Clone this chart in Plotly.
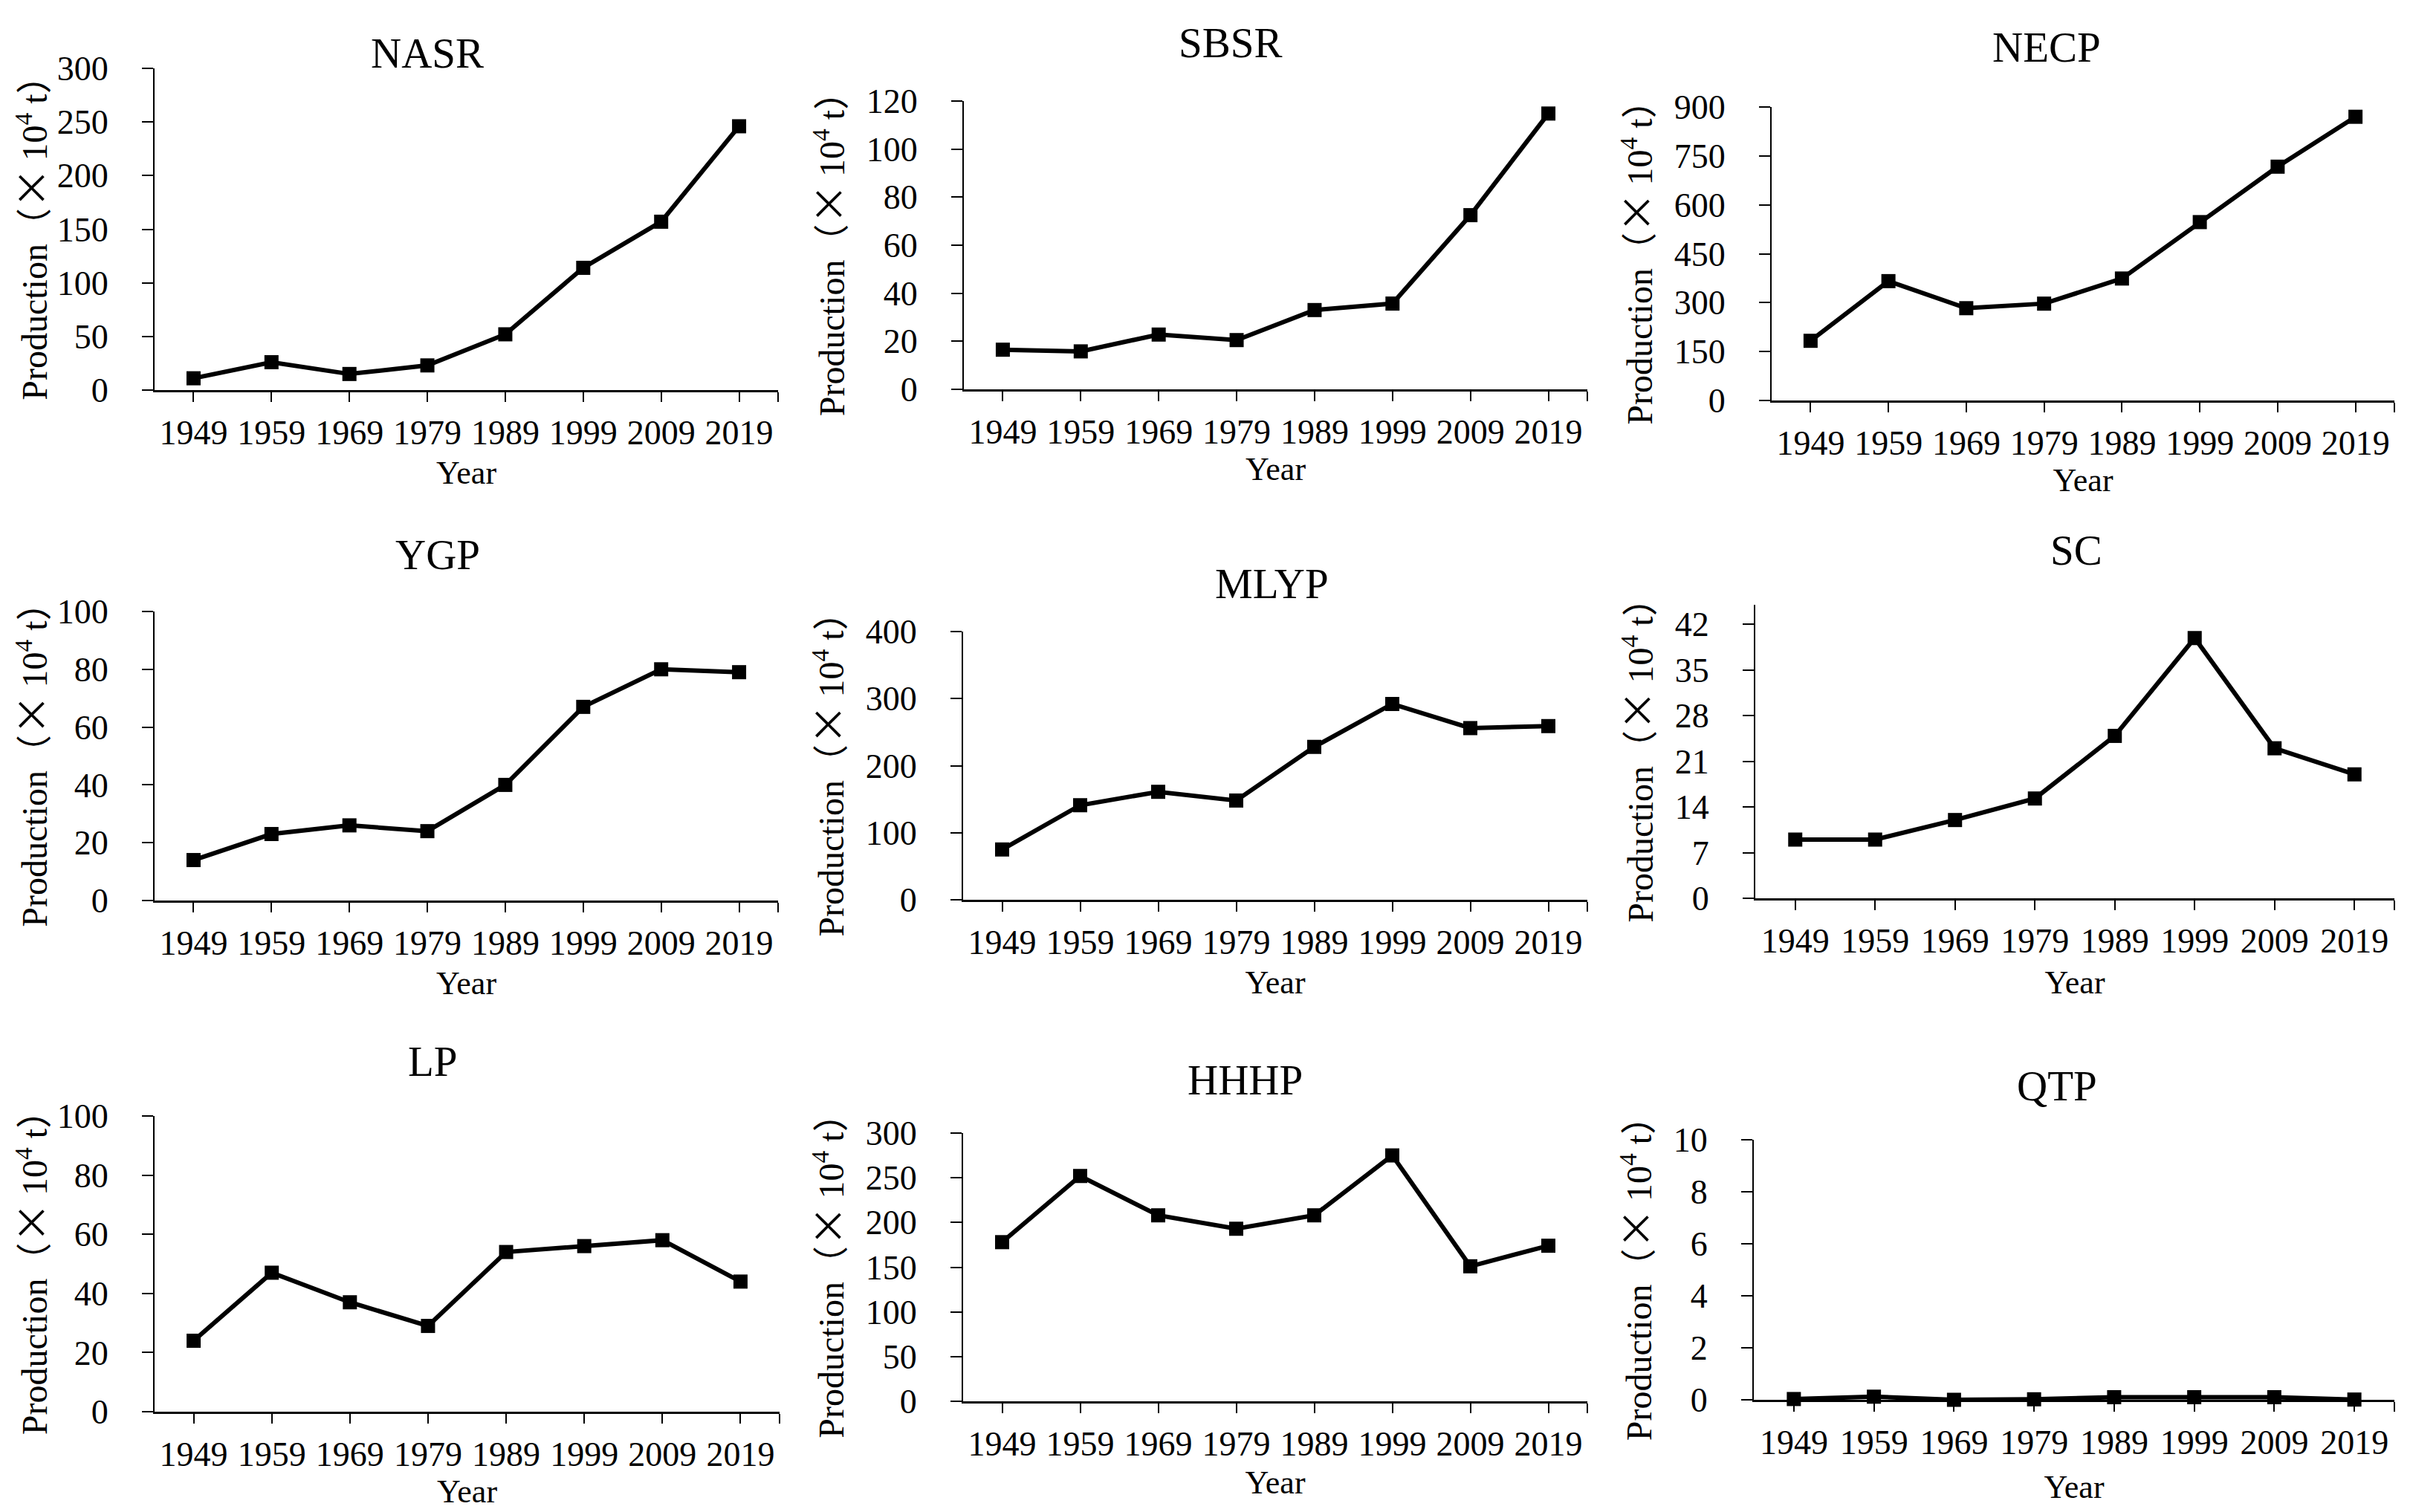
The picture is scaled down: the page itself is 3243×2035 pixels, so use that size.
import plotly.graph_objects as go

W, H = 3243, 2035

years = [1949, 1959, 1969, 1979, 1989, 1999, 2009, 2019]
year_labels = ["1949", "1959", "1969", "1979", "1989", "1999", "2009", "2019"]

regions = ["NASR", "SBSR", "NECP", "YGP", "MLYP", "SC", "LP", "HHHP", "QTP"]

nasr = [11, 26, 15, 23, 52, 114, 157, 246]
sbsr = [16.5, 15.8, 22.8, 20.5, 33, 35.7, 72.5, 114.8]
necp = [183, 366, 283, 297, 374, 547, 717, 870]
ygp = [14, 23, 26, 24, 40, 67, 80, 79]
mlyp = [75, 141, 161, 148, 228, 292, 256, 259]
sc = [9, 9, 12, 15.3, 24.9, 39.9, 23, 19]
lp = [24, 47, 37, 29, 54, 56, 58, 44]
hhhp = [178, 252, 208, 193, 208, 275, 151, 174]
qtp = [0.03, 0.12, 0.0, 0.02, 0.1, 0.1, 0.1, 0.01]

series = [nasr, sbsr, necp, ygp, mlyp, sc, lp, hhhp, qtp]
y_max = [300, 120, 900, 100, 400, 45, 100, 300, 10]
y_step = [50, 20, 150, 20, 100, 7, 20, 50, 2]

# plot boxes in pixels: left, right, top (range max), bottom (zero)
boxes = [
    (208, 1047, 92, 525),
    (1297, 2136, 136, 524),
    (2384, 3222, 144, 539),
    (208, 1047, 823, 1212),
    (1296, 2136, 850, 1211),
    (2362, 3222, 814, 1209),
    (208, 1049, 1502, 1900),
    (1296, 2136, 1525, 1886),
    (2360, 3222, 1534, 1884),
]
title_pos = [
    (575, 72), (1655, 58), (2754, 64),
    (589, 746), (1711, 786), (2794, 740),
    (582, 1428), (1676, 1453), (2768, 1461),
]
year_standoff = [14, 8, 0, 14, 14, 16, 8, 12, 20]

FONT = "Liberation Serif, 'Times New Roman', 'Noto Sans CJK SC', serif"
CJK = "Noto Sans CJK SC"
ytitle = ("Production<span style=\"font-family:'" + CJK + "'\">（</span>"
          "<span style=\"font-family:'" + CJK + "';font-size:54px\">×</span>"
          "&#8201;10<sup>4</sup> t<span style=\"font-family:'" + CJK + "'\">）</span>")

fig = go.Figure()
layout = dict(
    width=W, height=H,
    margin=dict(l=0, r=0, t=0, b=0, autoexpand=False),
    paper_bgcolor="white", plot_bgcolor="white",
    showlegend=False,
    font=dict(family=FONT, size=46, color="black"),
    annotations=[],
)

x_lo = years[0] - (years[1] - years[0]) / 2
x_hi = years[-1] + (years[1] - years[0]) / 2

for i, (name, vals) in enumerate(zip(regions, series)):
    n = i + 1
    xa = "x" if n == 1 else f"x{n}"
    ya = "y" if n == 1 else f"y{n}"
    fig.add_trace(go.Scatter(
        x=years, y=vals, xaxis=xa, yaxis=ya, mode="lines+markers",
        line=dict(color="black", width=6),
        marker=dict(symbol="square", size=19, color="black"),
        name=name, cliponaxis=False,
    ))
    l, r, t, b = boxes[i]
    layout[f"xaxis{n}" if n > 1 else "xaxis"] = dict(
        domain=[l / W, r / W], anchor=ya, automargin=False,
        range=[x_lo, x_hi],
        tickmode="array", tickvals=years + [x_hi], ticktext=year_labels + [""],
        showline=True, linecolor="black", linewidth=2.5,
        ticks="outside", ticklen=13, tickwidth=2, tickcolor="black",
        showgrid=False, zeroline=False,
        tickfont=dict(size=46), ticklabelstandoff=2,
        title=dict(text="Year", font=dict(size=44), standoff=year_standoff[i]),
        fixedrange=True,
    )
    layout[f"yaxis{n}" if n > 1 else "yaxis"] = dict(
        domain=[1 - b / H, 1 - t / H], anchor=xa, automargin=False,
        range=[0, y_max[i]], tick0=0, dtick=y_step[i],
        showline=True, linecolor="black", linewidth=2,
        ticks="outside", ticklen=15, tickwidth=2, tickcolor="black",
        showgrid=False, zeroline=False,
        tickfont=dict(size=46), ticklabelstandoff=36,
        title=dict(text=ytitle, font=dict(size=48), standoff=14),
        fixedrange=True,
    )
    cx, cy = title_pos[i]
    layout["annotations"].append(dict(
        text=name, x=cx / W, y=1 - cy / H, xref="paper", yref="paper",
        xanchor="center", yanchor="middle", showarrow=False,
        font=dict(size=57, family=FONT, color="black"),
    ))

fig.update_layout(**layout)
fig.write_html(
    "out.html",
    config={"displayModeBar": False},
    post_script="document.body.style.margin='0';document.body.style.overflow='hidden';",
)
